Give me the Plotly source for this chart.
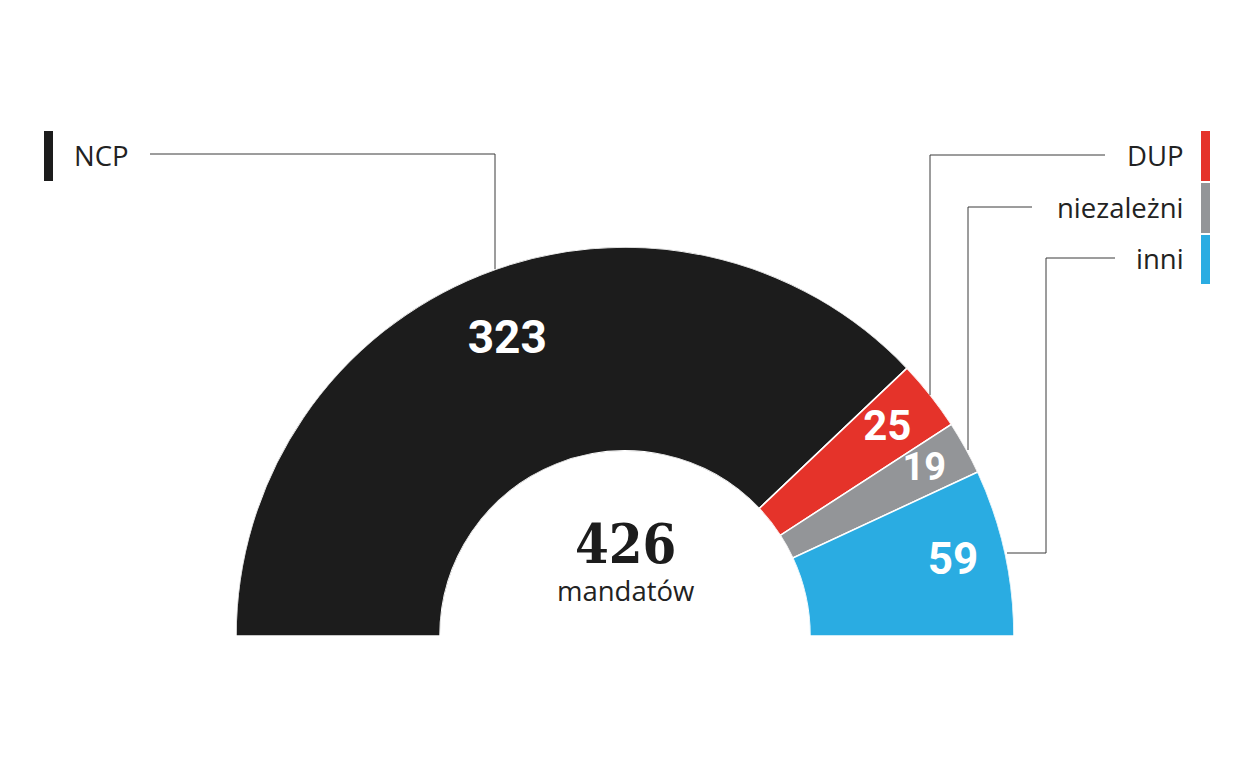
import plotly.graph_objects as go

parties = ["NCP", "DUP", "niezależni", "inni"]
seats = [323, 25, 19, 59]
colors = ["#1c1c1c", "#e5332a", "#939598", "#2aace2"]
label_sizes = [46, 42, 38, 44]
label_r = [0.65, 0.73, 0.77, 0.74]
total_label = "mandatów"

OFF = 8  # page body margin
W, H = 1250 - OFF, 780 - OFF
total = sum(seats)

# angular positions derived from data (0 = west, clockwise over the top to 180 = east)
widths = [v / total * 180 for v in seats]
starts = [sum(widths[:i]) for i in range(len(widths))]
mids = [s + w / 2 for s, w in zip(starts, widths)]

fig = go.Figure()
fig.add_trace(go.Barpolar(
    r=[1] * len(seats), theta=mids, width=widths, base=0,
    marker=dict(color=colors, line=dict(color="white", width=1.5)),
    hoverinfo="skip", showlegend=False,
))
fig.add_trace(go.Scatterpolar(
    r=label_r, theta=mids, mode="text",
    text=[str(v) for v in seats],
    textfont=dict(family="Roboto", size=label_sizes, color="white", weight="bold"),
    hoverinfo="skip", showlegend=False,
))


def px(x):
    return (x - OFF) / W


def py(y):
    return 1 - (y - OFF) / H


cx, cy, R = 625, 636, 389
fig.update_layout(
    width=W, height=H, margin=dict(l=0, r=0, t=0, b=0),
    paper_bgcolor="white", plot_bgcolor="white",
    polar=dict(
        domain=dict(x=[px(cx - R), px(cx + R)], y=[py(cy), py(cy - R)]),
        sector=[0, 180], hole=185 / 389, bgcolor="white",
        radialaxis=dict(visible=False, range=[0, 1]),
        angularaxis=dict(visible=False, rotation=180, direction="clockwise"),
    ),
)

line_style = dict(color="#3a3a3a", width=1)
shapes = []
# leader lines
for pts in [
    [(150, 154), (495, 154), (495, 269)],
    [(1105, 155), (930, 155), (930, 395)],
    [(1032, 207), (968, 207), (968, 450)],
    [(1115, 258), (1046, 258), (1046, 553), (1007, 553)],
]:
    for (x0, y0), (x1, y1) in zip(pts[:-1], pts[1:]):
        shapes.append(dict(type="line", xref="paper", yref="paper",
                           x0=px(x0), y0=py(y0), x1=px(x1), y1=py(y1), line=line_style))
# colored legend bars
bar_boxes = [(44, 131, 53, 181), (1201, 131, 1210, 181), (1201, 183, 1210, 233), (1201, 235, 1210, 284)]
for (x0, y0, x1, y1), c in zip(bar_boxes, colors):
    shapes.append(dict(type="rect", xref="paper", yref="paper",
                       x0=px(x0), y0=py(y1), x1=px(x1), y1=py(y0),
                       fillcolor=c, line=dict(width=0)))
fig.update_layout(shapes=shapes)

annots = []
lab_font = dict(family="Open Sans", size=27.5, color="#222222")
annots.append(dict(x=px(72), y=py(155), xref="paper", yref="paper", text=parties[0],
                   showarrow=False, xanchor="left", yanchor="middle", font=lab_font))
for name, yy in zip(parties[1:], [155, 207, 258]):
    annots.append(dict(x=px(1186), y=py(yy), xref="paper", yref="paper", text=name,
                       showarrow=False, xanchor="right", yanchor="middle", font=lab_font))
annots.append(dict(x=px(625), y=py(544), xref="paper", yref="paper", text=str(total),
                   showarrow=False, xanchor="center", yanchor="middle",
                   font=dict(family="DejaVu Serif Condensed", size=54, color="#1c1c1c", weight="bold")))
annots.append(dict(x=px(625), y=py(590), xref="paper", yref="paper", text=total_label,
                   showarrow=False, xanchor="center", yanchor="middle",
                   font=dict(family="Open Sans", size=27.5, color="#222222")))
fig.update_layout(annotations=annots)

fig.write_html("out.html")
